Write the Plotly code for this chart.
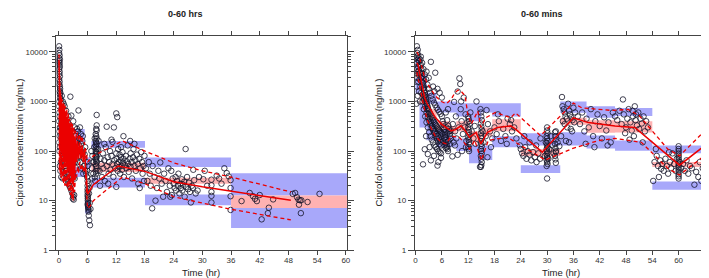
import plotly.graph_objects as go

# ---------------- LEFT PANEL (0-60 hrs) ----------------
# observed concentrations: time (h), conc (ng/mL)
obs_left_t = [
    0.05,0.1,0.05,0.15,0.1,0.2,0.05,0.15,0.1,0.2,0.05,0.15,0.1,0.2,0.05,0.15,0.1,0.2,0.25,0.15,0.2,0.25,0.1,
    0.05,0.1,0.15,0.05,0.2,0.1,0.15,0.05,0.2,0.1,
    0.3,0.4,0.5,0.6,0.7,0.8,0.9,1.0,1.1,1.2,1.3,1.4,1.5,1.6,1.7,1.8,1.9,2.0,2.1,2.2,2.3,2.4,2.5,2.6,2.7,2.8,2.9,3.0,3.1,3.2,3.3,
    0.4,0.5,0.6,0.7,0.8,0.9,1.0,1.1,1.2,1.3,1.4,1.5,1.6,1.7,1.8,1.9,2.0,2.2,2.4,2.6,2.8,3.0,3.1,2.9,3.2,
    0.8,1.2,1.5,2.0,2.4,2.6,3.0,3.3,1.8,2.2,2.8,1.0,0.6,
    0.5,0.7,0.9,1.1,1.3,1.5,1.7,1.9,2.1,2.3,2.5,2.7,2.9,3.1,3.3,2.0,2.4,2.6,1.6,2.8,
    0.3,0.5,0.8,0.2,0.4,
    3.5,3.6,3.8,4.0,4.0,4.2,4.3,4.5,4.6,4.8,5.0,5.0,5.2,5.3,5.5,5.5,4.4,3.9,4.7,4.1,3.7,4.9,5.4,3.6,5.1,4.2,4.6,3.8,
    5.8,5.9,5.9,6.0,6.0,6.0,6.0,6.0,6.05,6.05,6.05,6.1,6.1,6.1,6.15,6.2,6.2,6.25,6.35,6.5,6.0,5.7,6.3,6.4,6.2,6.45,6.6,6.0,
    7.9,7.9,7.8,7.9,7.7,7.8,7.9,7.7,7.8,7.9,7.7,7.8,7.9,7.7,7.8,7.9,7.7,7.8,7.9,7.7,7.8,7.9,7.7,7.8,7.9,7.7,7.8,7.5,7.6,7.4,7.3,8.1,7.5,8.2,
    7.0,7.1,6.9,7.2,7.0,6.8,
    8.5,8.7,8.9,9.0,9.2,9.3,9.5,9.6,9.8,10.0,10.0,10.2,10.4,10.5,10.7,10.8,11.0,11.2,11.2,11.5,11.4,11.6,11.8,12.0,12.2,12.0,12.1,12.2,12.3,12.4,
    12.5,12.6,12.7,12.8,12.9,13.0,13.1,13.2,13.3,13.4,13.5,13.5,13.6,13.8,14.0,14.1,14.2,14.4,14.5,14.6,14.8,15.0,15.0,15.2,15.3,15.5,15.6,15.8,16.0,16.1,
    16.3,16.5,16.6,16.8,17.0,17.2,17.4,17.5,17.7,17.9,17.8,9.5,8.3,8.6,10.3,12.0,11.0,14.9,13.0,15.8,16.9,
    18.2,18.5,18.8,19.0,19.2,19.5,19.6,20.0,20.2,20.5,20.8,21.0,21.2,21.5,21.8,22.0,22.3,22.6,22.9,23.2,23.3,23.5,23.6,23.8,24.0,24.2,24.4,24.5,24.7,24.9,
    25.0,25.2,25.4,25.5,25.7,25.8,26.0,26.2,26.3,26.5,26.6,26.8,27.0,27.2,27.4,27.6,27.8,28.1,28.0,28.3,28.6,29.3,30.2,31.0,31.9,31.9,31.9,31.9,31.9,33.0,
    34.0,34.6,35.1,35.5,35.9,35.9,35.9,35.9,33.5,30.5,29.0,
    38.2,39.9,40.6,41.0,41.4,42.4,43.7,43.9,44.8,48.9,49.4,49.8,50.1,50.4,50.7,50.2,50.6,52.0,54.5,42.0,
]
obs_left_c = [
    13000,11000,9500,8500,7500,7000,6500,6000,5500,5000,4500,4000,3600,3200,2800,2500,2200,2000,1800,1600,1400,1200,1000,
    800,600,500,400,300,250,200,150,120,100,
    1500,1100,900,750,600,520,450,400,350,320,280,250,220,200,190,170,160,150,140,130,120,110,100,95,90,85,80,75,70,65,60,
    300,200,150,120,100,80,70,60,55,50,45,40,35,30,28,25,22,20,18,16,14,12,10.5,11,13,
    1000,800,650,500,1250,520,400,300,380,300,250,900,1300,
    400,250,180,130,110,90,75,65,60,50,45,40,35,30,28,35,30,25,110,55,
    40,30,28,50,60,
    200,150,120,100,250,80,180,60,140,110,90,200,70,50,40,120,300,60,45,660,90,160,85,45,35,130,220,280,
    60,40,30,25,20,17,15,13,12,11,10,9,8,7.5,7,6.5,6,5,4,3.2,50,35,14,18,22,9,6.8,8.5,
    535,330,280,260,220,200,180,160,150,140,130,120,110,100,95,90,85,80,75,70,65,60,55,50,45,40,35,30,25,120,60,40,180,110,
    80,60,45,35,28,100,
    40,70,55,30,90,45,65,25,120,310,50,75,35,60,100,42,80,153,55,300,30,65,45,575,485,90,70,55,40,110,
    60,48,85,35,65,75,50,42,95,58,200,70,30,52,80,45,62,130,55,38,70,90,48,60,28,75,110,50,65,40,
    85,55,22,70,45,95,60,35,50,80,25,140,160,20,22,19,170,160,120,140,18,
    45,25,60,35,20,7,50,30,10,18,40,28,59,22,12,35,25,15,45,20,12,40,13,28,22,18,30,16,25,20,
    35,14,22,18,27,16,21,24,12,110,19,30,17,23,15,9.2,20,42,18,26,14,30,27,20,26.5,20.5,15,12.5,9.2,32,
    22,45,36,31,26,18,12.3,6.5,28,40,16,
    9.8,14.3,12.3,10.9,9.8,4.2,5.6,7.2,10.6,13.7,14.3,11.7,10.5,10.2,10.2,8.3,5.6,9.4,13.7,13,
]

# observed percentile lines (time, 5th, 50th, 95th)
pct_left_t = [0.02,0.1,0.18,0.26,0.34,0.42,0.5,0.6,0.7,0.8,0.9,1.0,1.12,1.24,1.36,1.5,1.65,1.8,1.95,
              2.1,2.25,2.4,2.55,2.7,2.85,3.0,3.15,3.3,3.5,3.7,3.9,4.1,4.35,4.6,4.85,5.1,5.35,5.6,
              6.0,7.2,12.4,18.0,24.0,30.0,36.0,48.5]
p50_left = [7000,300,4000,150,1500,120,1200,100,900,80,800,70,700,60,600,50,500,45,450,
            40,350,35,300,25,250,22,200,30,180,60,160,70,150,70,130,60,110,45,
            13.5,21,50,39,24,19,15.5,10.2]
p95_left_t = [0.02,0.1,0.18,0.26,0.34,0.42,0.5,0.6,0.7,0.8,0.9,1.0,1.12,1.24,1.36,1.5,1.65,1.8,1.95,
              2.1,2.25,2.4,2.55,2.7,2.85,3.0,3.15,3.3,3.5,3.7,3.9,4.1,4.35,4.6,4.85,5.1,5.35,5.6,
              6.0,7.2,13.3,18.0,24.0,30.0,36.0,48.5]
p95_left = [9000,2000,8000,1500,1400,900,1300,700,1100,600,1000,500,900,400,800,350,700,300,600,
            250,450,200,400,150,350,120,300,150,260,180,240,160,220,150,200,140,150,100,
            60,80,160,100,58,40,30,15]
p05_left_t = [0.02,0.1,0.18,0.26,0.34,0.42,0.5,0.6,0.7,0.8,0.9,1.0,1.12,1.24,1.36,1.5,1.65,1.8,1.95,
              2.1,2.25,2.4,2.55,2.7,2.85,3.0,3.15,3.3,3.5,3.7,3.9,4.1,4.35,4.6,4.85,5.1,5.35,5.6,
              6.0,6.5,7.2,13.3,18.0,24.0,30.0,36.0,48.5]
p05_left = [1000,40,500,35,300,30,200,28,180,25,150,22,120,20,100,20,90,18,80,
            16,60,13,50,11,45,10,40,15,40,30,50,35,60,40,55,38,50,30,
            7,7.7,10,30,22,12,9,6.7,4.1]

# simulated CI boxes: bin start, bin end, (lo, hi) for 95th, median, 5th
bins_left_x0 = [0.0, 0.5, 1.5, 2.5, 3.3, 5.5, 6.8, 18.0, 36.0]
bins_left_x1 = [0.5, 1.5, 2.5, 3.3, 5.4, 6.6, 18.0, 36.0, 60.27]
up_left_lo = [None, None, None, None, 148, 45, 117, 48, 12.7]
up_left_hi = [None, None, None, None, 280, 75, 160, 74, 35.7]
med_left_lo = [300, 100, 60, 40, 70, 10, 38, 22, 7.1]
med_left_hi = [3000, 700, 400, 250, 110, 17, 58, 29, 12.7]
lo_left_lo = [None, None, None, None, 30, 5.5, 18.5, 8.1, 2.8]
lo_left_hi = [None, None, None, None, 48, 10, 29, 13.3, 7.1]

# ---------------- RIGHT PANEL (0-60 mins) ----------------
obs_right_t = [
    0.3,0.5,0.4,0.6,0.3,0.7,0.5,0.8,0.4,0.9,0.6,0.3,0.8,0.5,1.0,0.7,0.4,0.9,0.6,0.3,0.8,0.5,1.0,0.2,
    1.1,1.2,1.3,1.4,1.5,1.6,1.7,1.8,1.9,2.0,2.1,2.2,2.3,2.4,2.5,2.6,2.7,2.8,2.9,3.0,3.2,3.4,3.6,3.8,4.0,4.2,4.4,4.6,4.8,5.0,5.2,5.4,5.6,5.8,6.0,
    1.2,1.5,1.8,2.1,2.4,2.7,3.0,3.3,3.5,3.6,3.9,4.2,4.5,4.5,4.8,5.1,5.4,5.7,6.0,2.5,3.0,4.0,5.0,6.0,5.5,4.3,
    1.3,1.6,1.9,2.2,2.5,2.8,3.1,3.4,3.7,4.0,4.3,4.6,4.9,5.2,5.5,5.8,1.7,2.1,2.8,3.5,5.2,5.0,5.8,4.2,3.2,2.4,
    1.4,1.7,2.0,2.3,2.6,2.9,3.2,3.5,3.8,4.1,4.4,4.7,5.0,5.3,5.6,5.9,1.1,1.3,1.6,1.9,2.2,2.5,2.8,3.1,3.4,3.7,4.0,4.3,4.6,4.9,5.2,5.5,5.8,
    6.2,6.3,6.4,6.5,6.6,6.7,6.8,6.9,7.0,7.1,7.2,7.3,7.4,7.5,7.6,7.7,7.8,7.9,8.0,6.3,6.6,6.9,7.2,7.5,7.8,8.0,6.2,6.5,7.0,7.3,8.4,8.8,6.9,7.4,
    8.5,8.7,9.0,9.2,9.3,9.6,9.6,9.8,10.0,10.2,10.3,10.5,10.6,10.8,11.0,11.2,11.4,11.6,11.8,10.4,9.0,11.5,
    12.0,12.1,12.2,12.3,12.0,12.1,12.2,12.3,12.0,12.1,12.2,12.3,12.0,12.1,12.2,12.5,12.8,13.2,13.5,13.9,13.7,
    14.8,14.9,15.0,15.1,14.9,15.0,15.1,14.9,15.0,15.1,14.9,15.0,15.1,14.9,15.0,15.1,14.9,15.0,15.1,15.0,14.9,14.7,
    15.3,15.5,16.0,16.4,16.5,17.0,17.5,18.0,18.5,19.0,19.5,20.0,20.5,21.0,21.5,22.0,22.5,23.0,16.2,17.2,18.8,21.8,20.8,
    24.0,24.3,24.6,25.0,25.3,25.6,26.0,26.4,26.8,27.2,27.6,28.0,28.4,23.8,24.8,26.0,27.5,28.5,
    30.0,30.0,30.1,29.9,30.0,30.1,29.9,30.0,30.1,29.9,30.0,30.1,29.9,30.0,30.1,29.9,30.0,30.1,29.9,30.0,29.5,30.5,29.7,30.3,30.8,31.2,31.5,32.0,32.4,32.8,32.0,
    31.8,31.9,32.0,31.8,31.9,32.0,31.8,31.9,32.0,
    33.4,33.5,33.8,34.0,34.2,34.5,34.8,35.0,35.2,35.5,35.8,36.0,36.2,33.6,34.0,34.6,35.4,33.2,34.3,35.0,36.4,35.7,
    37.0,37.5,38.0,38.5,39.0,39.5,40.0,40.5,41.0,41.5,42.0,42.5,43.0,43.5,44.0,44.5,45.0,40.8,38.8,43.8,
    45.5,46.0,46.5,47.0,47.3,47.5,48.0,48.3,48.6,49.0,49.3,49.6,50.0,50.2,50.5,50.8,51.0,51.3,51.6,52.0,52.3,52.6,53.0,49.8,48.8,51.8,50.3,49.5,47.8,
    54.2,55.5,56.0,54.5,55.0,55.3,55.8,56.3,56.6,57.0,57.3,57.6,58.0,58.3,58.6,59.0,59.3,59.6,
    60.0,60.0,60.0,60.0,60.0,60.0,60.0,60.0,60.0,60.0,60.0,60.0,60.0,60.0,60.0,60.0,
    60.3,60.6,61.0,61.4,61.8,62.2,62.6,63.0,63.6,64.0,64.5,64.8,65.2,65.5,54.8,57.8,
]
obs_right_c = [
    13000,11000,9500,8500,8000,7500,7000,6500,6000,5500,5000,4500,4200,4000,3800,3500,3000,2800,2500,2000,1600,1300,1000,900,
    7000,5500,4500,3800,3200,2800,2400,2100,1900,1700,1500,1350,1200,1100,1000,900,820,750,700,650,600,550,500,460,420,390,360,340,320,300,280,265,250,240,230,
    8000,6000,4500,3500,2800,2200,1800,1500,6300,1300,1100,950,3800,850,750,680,620,560,500,4000,3000,2000,1800,1200,1500,1600,
    1500,1000,700,500,380,300,240,200,170,150,130,120,110,100,95,90,54,109,87,65,60,51,73,80,120,200,
    2500,1800,1300,950,700,550,450,380,320,280,250,220,200,180,165,150,2000,3000,1400,1100,800,600,480,400,340,290,260,230,200,180,160,140,130,
    400,350,300,270,240,210,190,170,150,135,120,110,100,320,280,250,220,200,180,160,130,115,420,160,140,260,220,180,300,230,78,980,600,700,
    350,150,250,500,180,1590,84,300,2930,2250,700,400,100,220,1200,300,550,160,380,1000,130,120,
    500,450,400,350,300,270,240,210,190,170,150,135,120,110,100,600,250,180,320,1000,140,
    700,600,500,420,360,310,270,230,200,180,160,140,125,110,100,90,80,70,60,52,48,48,
    250,150,200,75,350,250,180,300,220,400,160,280,200,450,350,250,300,180,670,120,550,420,140,
    110,90,80,120,70,100,85,65,95,75,60,90,70,130,200,150,130,180,
    300,260,230,200,180,160,145,130,120,110,100,92,85,78,72,66,60,55,50,28,80,110,150,70,200,130,90,250,150,126,100,
    240,200,170,140,115,95,80,68,58,
    1230,800,700,600,500,450,900,650,550,480,420,750,380,400,350,300,280,200,160,150,600,250,
    500,350,600,250,450,300,700,200,400,550,320,180,480,260,380,150,600,120,140,130,
    500,420,650,350,1100,550,300,450,700,380,260,500,800,420,330,600,280,450,360,500,250,400,300,200,170,150,550,650,230,
    25,30,44,60,80,50,65,55,40,70,50,35,60,45,90,55,40,70,
    125,110,100,90,82,75,68,62,56,51,46,42,38,34,31,28,
    60,45,55,40,65,35,50,45,21,38,30,60,25,45,110,95,
]

pct_right_t = [0.3,0.6,1.0,1.5,2.1,2.8,3.6,4.5,5.9,7.0,8.1,9.0,10.4,11.3,12.3,13.8,14.9,16.4,18.7,21.7,22.8,
               28.9,36.0,39.4,45.5,50.0,60.2,66.0]
p50_right = [6000,5400,3500,2000,1170,850,640,480,350,300,256,270,323,260,190,238,140,238,300,322,278,
             95,470,375,322,300,52,130]
p95_right_t = [0.3,0.6,1.0,1.5,2.1,2.8,3.6,4.5,5.9,7.0,8.1,9.0,9.7,10.4,11.3,11.9,12.7,14.2,14.9,16.0,18.2,21.7,22.8,
               28.5,36.0,37.9,44.7,48.5,51.0,57.5,60.2,66.0]
p95_right = [10000,9000,7000,4500,3000,2200,1700,1300,1000,900,1100,1500,1700,1600,1300,560,350,640,300,470,600,470,590,
             205,930,745,660,690,520,110,80,257]
p05_right_t = [0.3,1.0,1.5,2.1,2.8,3.6,4.5,5.9,7.0,8.1,10.0,12.3,13.5,15.0,16.6,21.0,22.8,
               29.6,35.7,41.7,45.5,51.5,57.5,60.2,66.0]
p05_right = [3900,2000,1100,650,400,280,200,150,140,200,190,110,165,65,165,190,150,
             66,112,163,180,150,45,33,82]

bins_right_x0 = [0.0, 0.9, 2.5, 4.8, 7.8, 9.3, 12.2, 15.0, 17.5, 24.0, 33.0, 39.0, 45.5, 54.0]
bins_right_x1 = [0.9, 2.5, 4.8, 7.8, 9.3, 12.2, 15.0, 17.5, 24.0, 33.0, 39.0, 45.5, 54.0, 66.55]
up_right_lo = [4500, 1800, 900, 600, 600, 500, 400, 600, 500, 130, 590, 470, 510, 90]
up_right_hi = [8000, 3500, 1500, 1000, 1000, 920, 920, 920, 920, 230, 1000, 800, 740, 130]
med_right_lo = [3000, 900, 450, 270, 220, 250, 150, 200, 250, 80, 340, 235, 238, 48]
med_right_hi = [4500, 1400, 700, 400, 320, 400, 250, 300, 440, 110, 470, 420, 400, 60]
lo_right_lo = [1450, 300, 165, 120, 120, 100, 57, 66, 120, 36, 130, 113, 102, 16.6]
lo_right_hi = [3000, 900, 450, 270, 200, 180, 130, 130, 200, 52, 240, 205, 163, 24.3]

# tick labels
x_ticks = [0, 6, 12, 18, 24, 30, 36, 42, 48, 54, 60]
y_ticks = [1, 10, 100, 1000, 10000]

BLUE = "rgb(168,168,250)"
PINK = "rgb(255,178,178)"
RED = "rgb(235,0,0)"


def boxes(x0s, x1s, los, his, color, xa, ya):
    xs, ys = [], []
    for a, b, lo, hi in zip(x0s, x1s, los, his):
        if lo is None:
            continue
        xs += [a, b, b, a, a, None]
        ys += [lo, lo, hi, hi, lo, None]
    return go.Scatter(x=xs, y=ys, mode="lines", fill="toself", fillcolor=color,
                      line=dict(width=0, color=color), xaxis=xa, yaxis=ya,
                      hoverinfo="skip", showlegend=False)


fig = go.Figure()

panels = [
    dict(xa="x", ya="y", bx0=bins_left_x0, bx1=bins_left_x1,
         up=(up_left_lo, up_left_hi), med=(med_left_lo, med_left_hi), lo=(lo_left_lo, lo_left_hi),
         ot=obs_left_t, oc=obs_left_c,
         l50=(pct_left_t, p50_left), l95=(p95_left_t, p95_left), l05=(p05_left_t, p05_left)),
    dict(xa="x2", ya="y2", bx0=bins_right_x0, bx1=bins_right_x1,
         up=(up_right_lo, up_right_hi), med=(med_right_lo, med_right_hi), lo=(lo_right_lo, lo_right_hi),
         ot=obs_right_t, oc=obs_right_c,
         l50=(pct_right_t, p50_right), l95=(p95_right_t, p95_right), l05=(p05_right_t, p05_right)),
]

for p in panels:
    fig.add_trace(boxes(p["bx0"], p["bx1"], p["up"][0], p["up"][1], BLUE, p["xa"], p["ya"]))
    fig.add_trace(boxes(p["bx0"], p["bx1"], p["lo"][0], p["lo"][1], BLUE, p["xa"], p["ya"]))
    fig.add_trace(boxes(p["bx0"], p["bx1"], p["med"][0], p["med"][1], PINK, p["xa"], p["ya"]))
    fig.add_trace(go.Scatter(x=p["ot"], y=p["oc"], mode="markers", xaxis=p["xa"], yaxis=p["ya"],
                             marker=dict(symbol="circle-open", size=5.5, color="rgb(20,20,40)",
                                         line=dict(width=0.8)),
                             hoverinfo="skip", showlegend=False))
    fig.add_trace(go.Scatter(x=p["l95"][0], y=p["l95"][1], mode="lines", xaxis=p["xa"], yaxis=p["ya"],
                             line=dict(color=RED, width=1.3, dash="4px,3px"), showlegend=False))
    fig.add_trace(go.Scatter(x=p["l05"][0], y=p["l05"][1], mode="lines", xaxis=p["xa"], yaxis=p["ya"],
                             line=dict(color=RED, width=1.3, dash="4px,3px"), showlegend=False))
    fig.add_trace(go.Scatter(x=p["l50"][0], y=p["l50"][1], mode="lines", xaxis=p["xa"], yaxis=p["ya"],
                             line=dict(color=RED, width=1.5), showlegend=False))

W, H = 709, 278
TOP, BOT = 29, 246.7
ydom = [(H - BOT) / H, (H - TOP) / H]
tickfont = dict(family="Liberation Sans, Arial, sans-serif", size=8, color="#333")

xcommon = dict(showline=True, linecolor="#444", linewidth=1, mirror="ticks", ticks="outside",
               ticklen=4, tickcolor="#444", tickvals=x_ticks, ticktext=[str(v) for v in x_ticks],
               showgrid=False, zeroline=False, tickfont=tickfont, ticklabelstandoff=-2)
ycommon = dict(type="log", range=[0, 4.311], showline=True, linecolor="#444", linewidth=1,
               mirror="allticks", ticks="outside", ticklen=6, tickcolor="#444",
               tickvals=y_ticks, ticktext=[str(v) for v in y_ticks], showgrid=False, zeroline=False,
               tickfont=tickfont,
               minor=dict(ticks="outside", ticklen=3, tickcolor="#444", dtick="D1", showgrid=False))

fig.update_layout(
    width=W, height=H, margin=dict(l=0, r=0, t=0, b=0),
    paper_bgcolor="white", plot_bgcolor="white", showlegend=False,
    xaxis=dict(domain=[46.7 / W, 340 / W], range=[-0.54, 60.27], anchor="y", **xcommon),
    yaxis=dict(domain=ydom, anchor="x", **ycommon),
    xaxis2=dict(domain=[408.3 / W, 703.3 / W], range=[-0.16, 66.55], anchor="y2", **xcommon),
    yaxis2=dict(domain=ydom, anchor="x2", **ycommon),
)

lab_font = dict(family="Liberation Sans, Arial, sans-serif", size=9.5, color="#222")
title_font = dict(family="Liberation Sans, Arial, sans-serif", size=9, color="#222")
annots = [
    dict(text="<b>0-60 hrs</b>", x=177.5 / W, y=(H - 6) / H, font=title_font),
    dict(text="<b>0-60 mins</b>", x=537 / W, y=(H - 6) / H, font=title_font),
    dict(text="Time (hr)", x=193 / W, y=(H - 269) / H, font=lab_font),
    dict(text="Time (hr)", x=556 / W, y=(H - 269) / H, font=lab_font),
    dict(text="Ciprofol concentration (ng/mL)", x=10 / W, y=(H - 137) / H, font=lab_font, textangle=-90),
    dict(text="Ciprofol concentration (ng/mL)", x=372 / W, y=(H - 137) / H, font=lab_font, textangle=-90),
]
for a in annots:
    fig.add_annotation(xref="paper", yref="paper", showarrow=False, xanchor="center", yanchor="middle", **a)

fig.write_html("out.html")
